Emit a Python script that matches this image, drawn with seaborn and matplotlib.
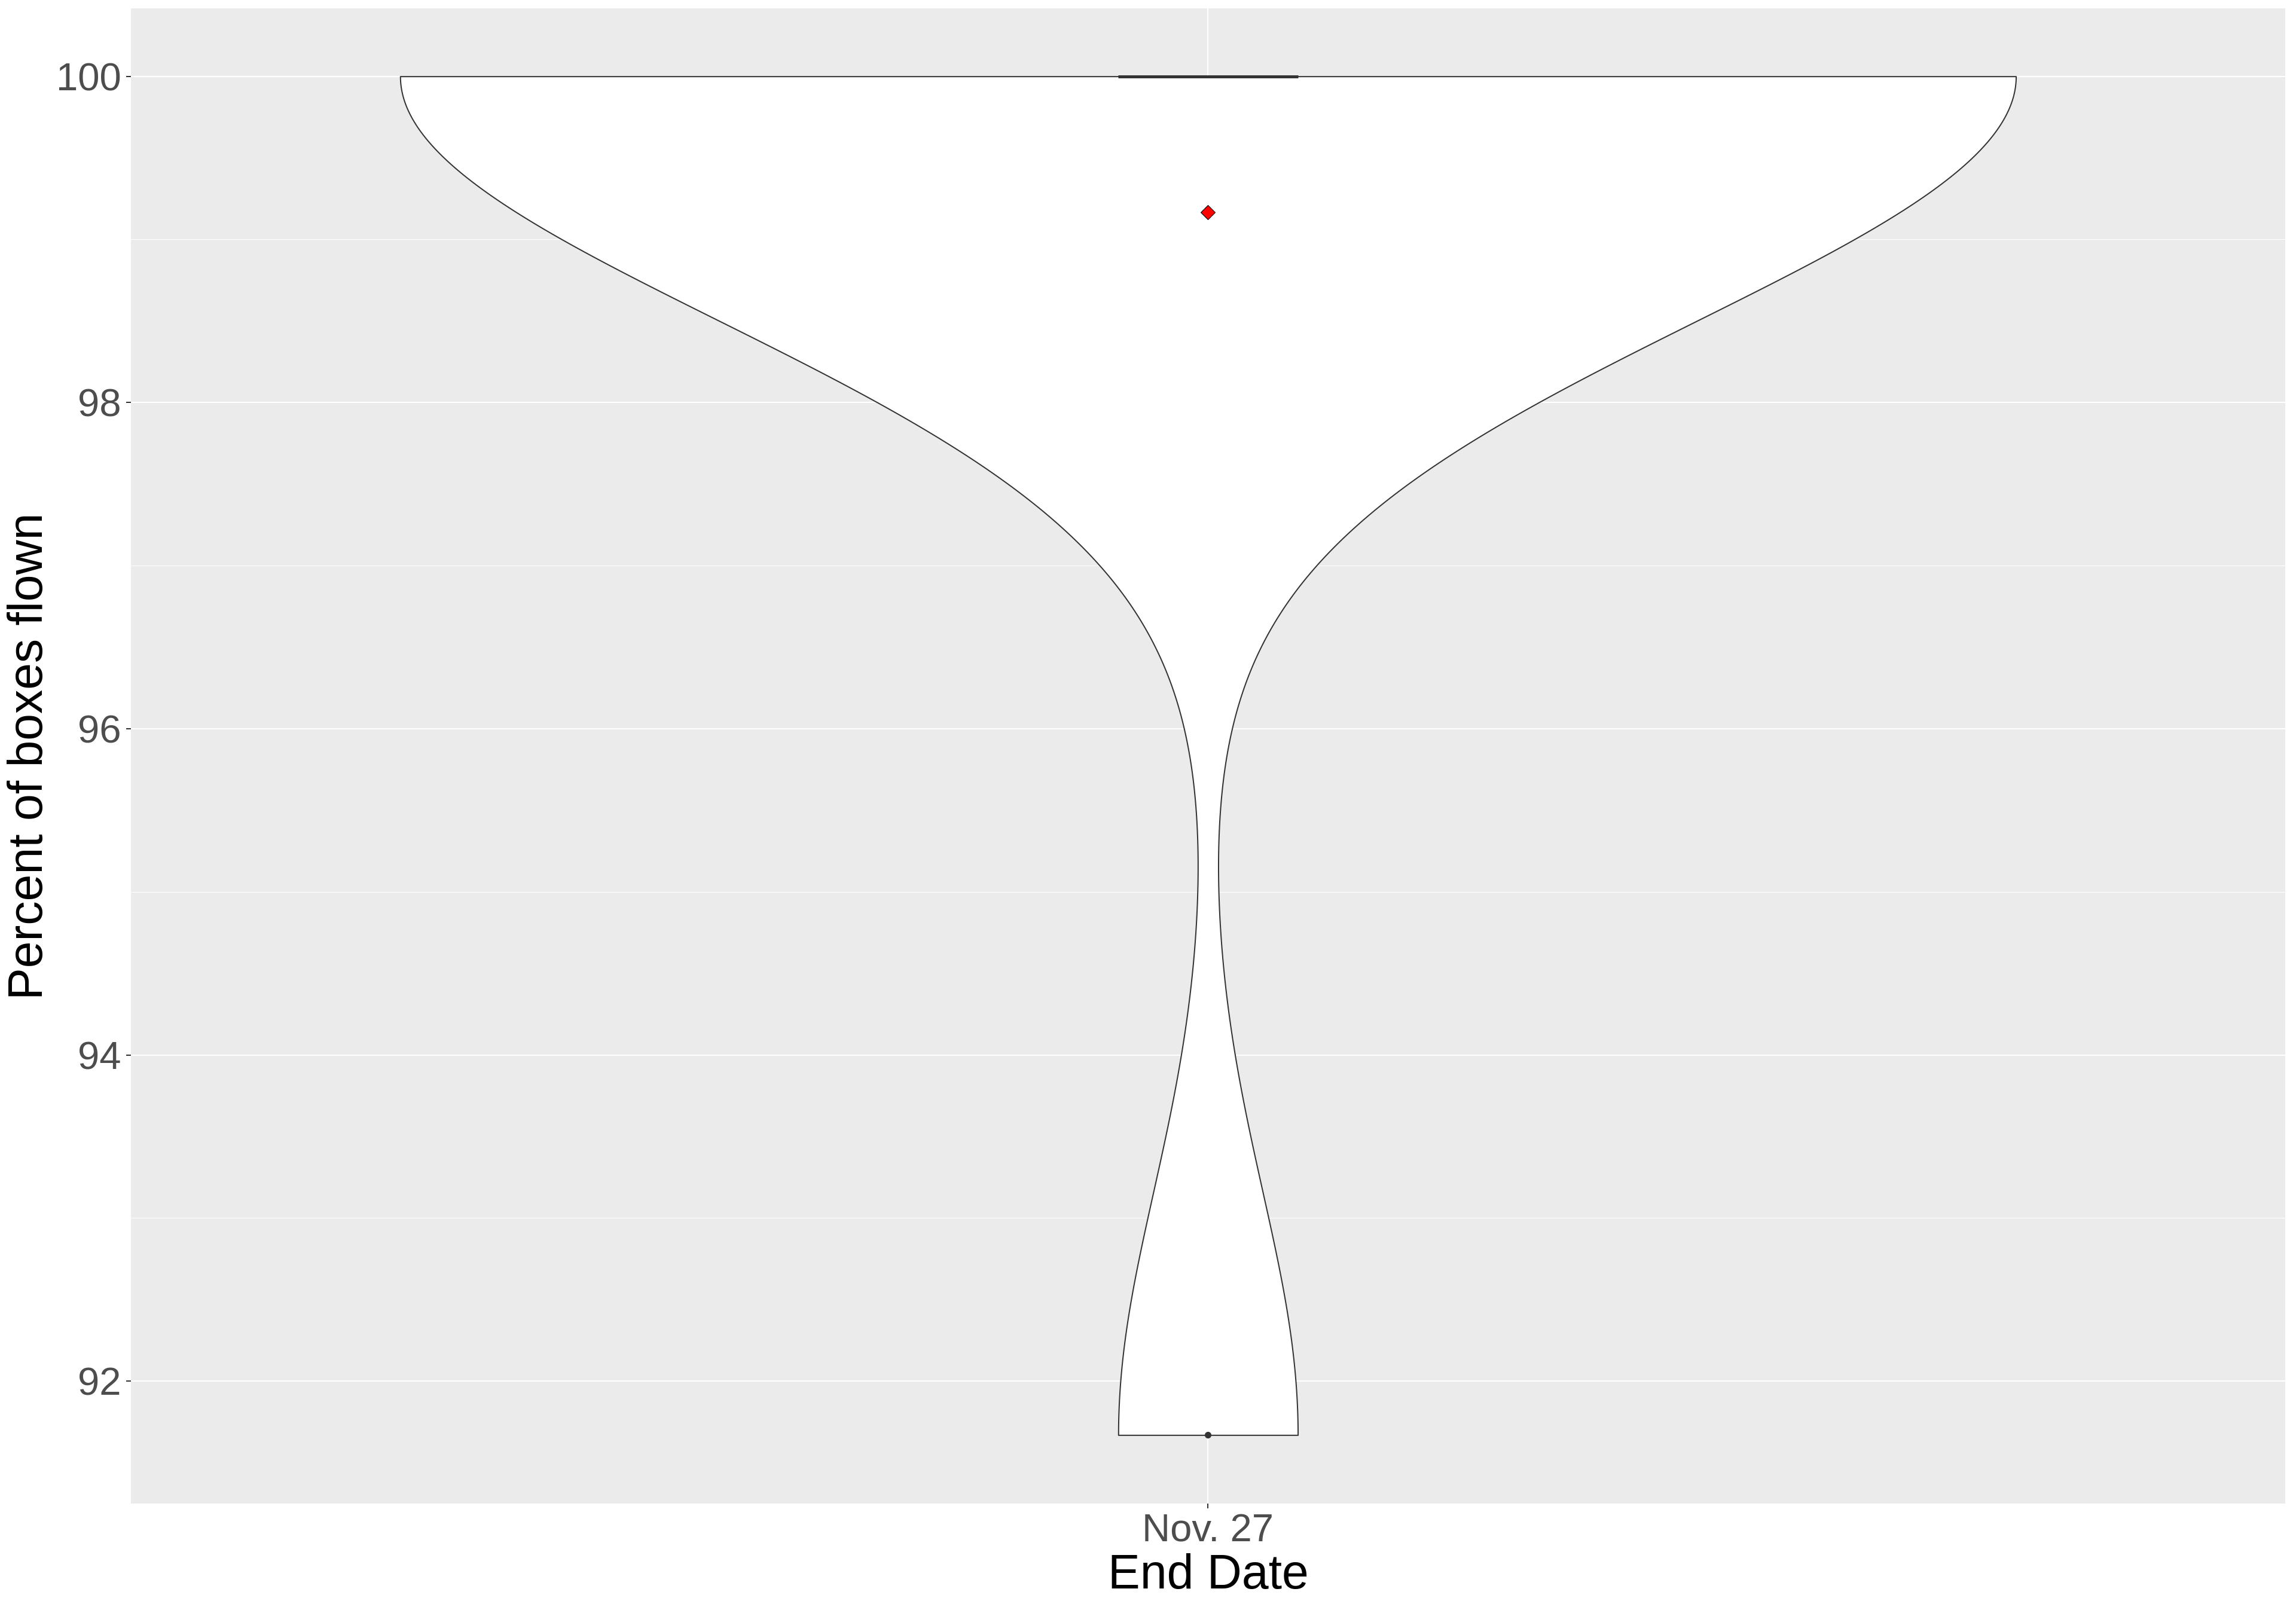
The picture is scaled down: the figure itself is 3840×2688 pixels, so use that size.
import pandas as pd
import numpy as np
import matplotlib
matplotlib.use("Agg")
import matplotlib.pyplot as plt
import seaborn as sns
from matplotlib.ticker import MultipleLocator

# Data: one end date, ten percentages
end_dates = ["Nov. 27"] * 10
pct_flown = [100, 100, 100, 100, 100, 100, 100, 100, 100, 91.67]
y_ticks = [92, 94, 96, 98, 100]

df = pd.DataFrame({"End Date": end_dates, "pct": pct_flown})

# ggplot-ish grey theme
sns.set_style("darkgrid", {"axes.facecolor": "#EBEBEB", "grid.color": "white"})
plt.rcParams["font.family"] = ["Liberation Sans", "DejaVu Sans"]

fig = plt.figure(figsize=(38.4, 26.88), dpi=100)
ax = fig.add_axes([0.0570, 0.0644, 0.9383, 0.9304])

# violin (nrd0-like bandwidth, trimmed to data range)
sns.violinplot(data=df, x="End Date", y="pct", cut=0, bw_adjust=0.9, width=0.9,
               inner=None, color="white", saturation=1, linecolor="#333333",
               linewidth=1.44, gridsize=512, ax=ax)

# narrow boxplot on top
sns.boxplot(data=df, x="End Date", y="pct", width=0.1, color="white", saturation=1,
            linecolor="#333333", linewidth=1.44, fliersize=7,
            flierprops={"marker": "o", "markerfacecolor": "#333333",
                        "markeredgecolor": "#333333"},
            medianprops={"linewidth": 3.6, "solid_capstyle": "butt"}, ax=ax)

# mean as red diamond
sns.pointplot(data=df, x="End Date", y="pct", estimator="mean", errorbar=None,
              color="red", markers="D", linestyles="none", markersize=12,
              markeredgecolor="black", markeredgewidth=0.8, ax=ax)

ax.set_xlim(-0.6, 0.6)
ax.set_ylim(91.25, 100.4167)
ax.set_yticks(y_ticks)
ax.yaxis.set_minor_locator(MultipleLocator(1))

ax.set_axisbelow(True)
ax.grid(True, which="major", color="white", linewidth=1.5)
ax.yaxis.grid(True, which="minor", color="white", linewidth=0.75)
ax.xaxis.grid(True, which="major", color="white", linewidth=1.5)

for s in ax.spines.values():
    s.set_visible(False)

ax.tick_params(axis="both", which="major", length=5.8, width=1.44, color="#333333",
               labelsize=47, labelcolor="#4D4D4D", pad=5.8, left=True, bottom=True)
ax.tick_params(axis="y", which="minor", length=0)

ax.set_xlabel("End Date", fontsize=58, color="black", labelpad=5)
ax.set_ylabel("Percent of boxes flown", fontsize=58, color="black", labelpad=4)

fig.savefig("out.png", dpi=100, facecolor="white")
